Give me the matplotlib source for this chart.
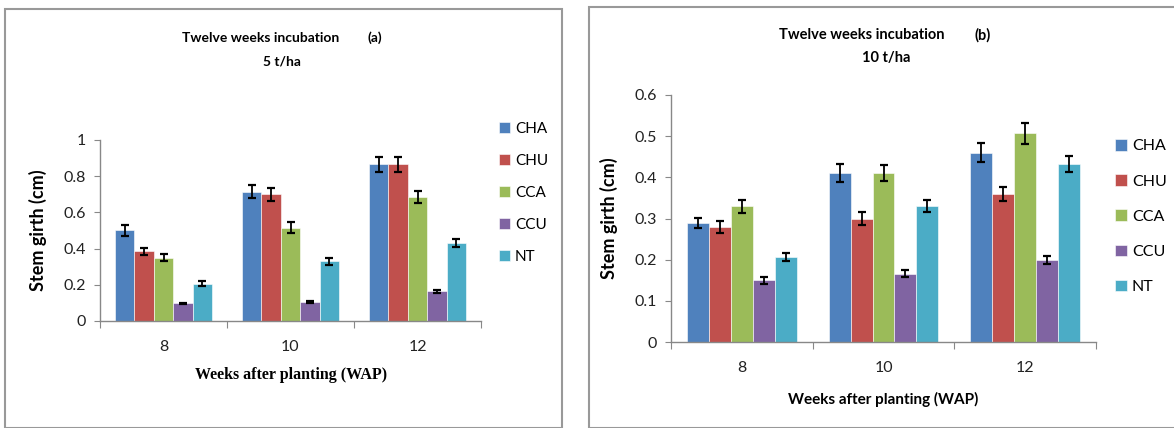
import numpy as np
import matplotlib
matplotlib.use('Agg')
from matplotlib import pyplot as plt
from matplotlib.patches import Rectangle

# data
weeks = ['8', '10', '12']
treatments = ['CHA', 'CHU', 'CCA', 'CCU', 'NT']
colors = ['#4F81BD', '#C0504D', '#9BBB59', '#8064A2', '#4BACC6']

# (a) 5 t/ha, rows = treatments, cols = weeks
girth_5 = [[0.50, 0.715, 0.865],
           [0.385, 0.70, 0.865],
           [0.35, 0.515, 0.685],
           [0.097, 0.105, 0.163],
           [0.205, 0.33, 0.43]]
err_5 = [[0.03, 0.035, 0.04],
         [0.02, 0.035, 0.04],
         [0.018, 0.03, 0.035],
         [0.004, 0.006, 0.007],
         [0.014, 0.018, 0.022]]

# (b) 10 t/ha
girth_10 = [[0.29, 0.41, 0.46],
            [0.28, 0.30, 0.36],
            [0.33, 0.41, 0.507],
            [0.15, 0.166, 0.20],
            [0.207, 0.33, 0.433]]
err_10 = [[0.012, 0.022, 0.023],
          [0.015, 0.015, 0.017],
          [0.016, 0.02, 0.025],
          [0.008, 0.008, 0.01],
          [0.01, 0.015, 0.02]]

W, H = 1174, 428
fig = plt.figure(figsize=(W / 100, H / 100), dpi=100)


def fx(px):
    return px / W


def fy(py):
    return 1 - py / H


def draw_panel(ax, vals, errs, ymax, ystep, yfmt, bar_w, tick_size):
    x = np.arange(len(weeks))
    n = len(treatments)
    for i in range(n):
        pos = x + (i - (n - 1) / 2) * bar_w
        ax.bar(pos, vals[i], bar_w, color=colors[i], edgecolor='white', linewidth=0.4,
               label=treatments[i], zorder=2)
        ax.errorbar(pos, vals[i], yerr=errs[i], fmt='none', ecolor='black',
                    elinewidth=1.3, capsize=3, capthick=1.6, zorder=3)
    ax.set_xlim(-0.5, len(weeks) - 0.5)
    ax.set_ylim(0, ymax)
    yt = np.round(np.arange(0, ymax + ystep / 2, ystep), 2)
    ax.set_yticks(yt)
    ax.set_yticklabels([yfmt(v) for v in yt], family='Lato', fontsize=tick_size, color='#222222')
    ax.set_xticks(np.arange(-0.5, len(weeks), 1.0))
    ax.set_xticklabels([])
    ax.set_xticks(x, minor=True)
    ax.set_xticklabels(weeks, minor=True, family='Lato', fontsize=tick_size, color='#222222')
    ax.tick_params(axis='x', which='minor', length=0, pad=14)
    ax.tick_params(axis='x', which='major', length=5, color='#888888', direction='out')
    ax.tick_params(axis='y', length=4, color='#888888', direction='out', pad=6)
    for s in ['top', 'right']:
        ax.spines[s].set_visible(False)
    for s in ['left', 'bottom']:
        ax.spines[s].set_color('#888888')
        ax.spines[s].set_linewidth(1.0)


def fmt_a(v):
    return '0' if v == 0 else ('1' if v == 1 else '{:.1f}'.format(v))


def fmt_b(v):
    return '0' if v == 0 else '{:.1f}'.format(v)


# outer boxes
fig.patches.append(Rectangle((fx(5), 0), fx(562) - fx(5), fy(9), transform=fig.transFigure,
                             fill=False, edgecolor='#999999', linewidth=1.5))
fig.patches.append(Rectangle((fx(589), 0), fx(1180) - fx(589), fy(7), transform=fig.transFigure,
                             fill=False, edgecolor='#999999', linewidth=1.5))

# panel (a)
ax1 = fig.add_axes([fx(100), fy(321), fx(481) - fx(100), fy(140) - fy(321)])
draw_panel(ax1, girth_5, err_5, 1.0, 0.2, fmt_a, 0.153, 11.5)
ax1.set_ylabel('Stem girth (cm)', family='Lato', fontweight='bold', fontsize=13, labelpad=12)
fig.text(fx(291), fy(375), 'Weeks after planting (WAP)', family='Liberation Serif', fontweight='bold',
         fontsize=11.5, ha='center', va='center')
fig.text(fx(261), fy(38), 'Twelve weeks incubation', family='Lato', fontweight='bold',
         fontsize=10, ha='center', va='center')
fig.text(fx(375), fy(38), '(a)', family='Lato', fontweight='bold', fontsize=10, ha='center', va='center')
fig.text(fx(282), fy(62), '5 t/ha', family='Lato', fontweight='bold', fontsize=10, ha='center', va='center')
ax1.legend(loc='upper left', bbox_to_anchor=(fx(499), fy(122)), bbox_transform=fig.transFigure,
           frameon=False, handlelength=0.75, handleheight=0.75, handletextpad=0.3,
           labelspacing=1.18, prop={'family': 'Lato', 'size': 11}, borderpad=0, borderaxespad=0)

# panel (b)
ax2 = fig.add_axes([fx(671), fy(342), fx(1096) - fx(671), fy(95) - fy(342)])
draw_panel(ax2, girth_10, err_10, 0.6, 0.1, fmt_b, 0.155, 11.5)
ax2.set_ylabel('Stem girth (cm)', family='Lato', fontweight='bold', fontsize=13, labelpad=12)
fig.text(fx(883), fy(399), 'Weeks after planting (WAP)', family='Lato', fontweight='bold',
         fontsize=11, ha='center', va='center')
fig.text(fx(862), fy(35), 'Twelve weeks incubation', family='Lato', fontweight='bold',
         fontsize=10.5, ha='center', va='center')
fig.text(fx(983), fy(35), '(b)', family='Lato', fontweight='bold', fontsize=10.5, ha='center', va='center')
fig.text(fx(886), fy(58), '10 t/ha', family='Lato', fontweight='bold', fontsize=10.5, ha='center', va='center')
ax2.legend(loc='upper left', bbox_to_anchor=(fx(1115), fy(139)), bbox_transform=fig.transFigure,
           frameon=False, handlelength=0.75, handleheight=0.75, handletextpad=0.3,
           labelspacing=1.3, prop={'family': 'Lato', 'size': 11.5}, borderpad=0, borderaxespad=0)

fig.savefig('out.png', dpi=100)
